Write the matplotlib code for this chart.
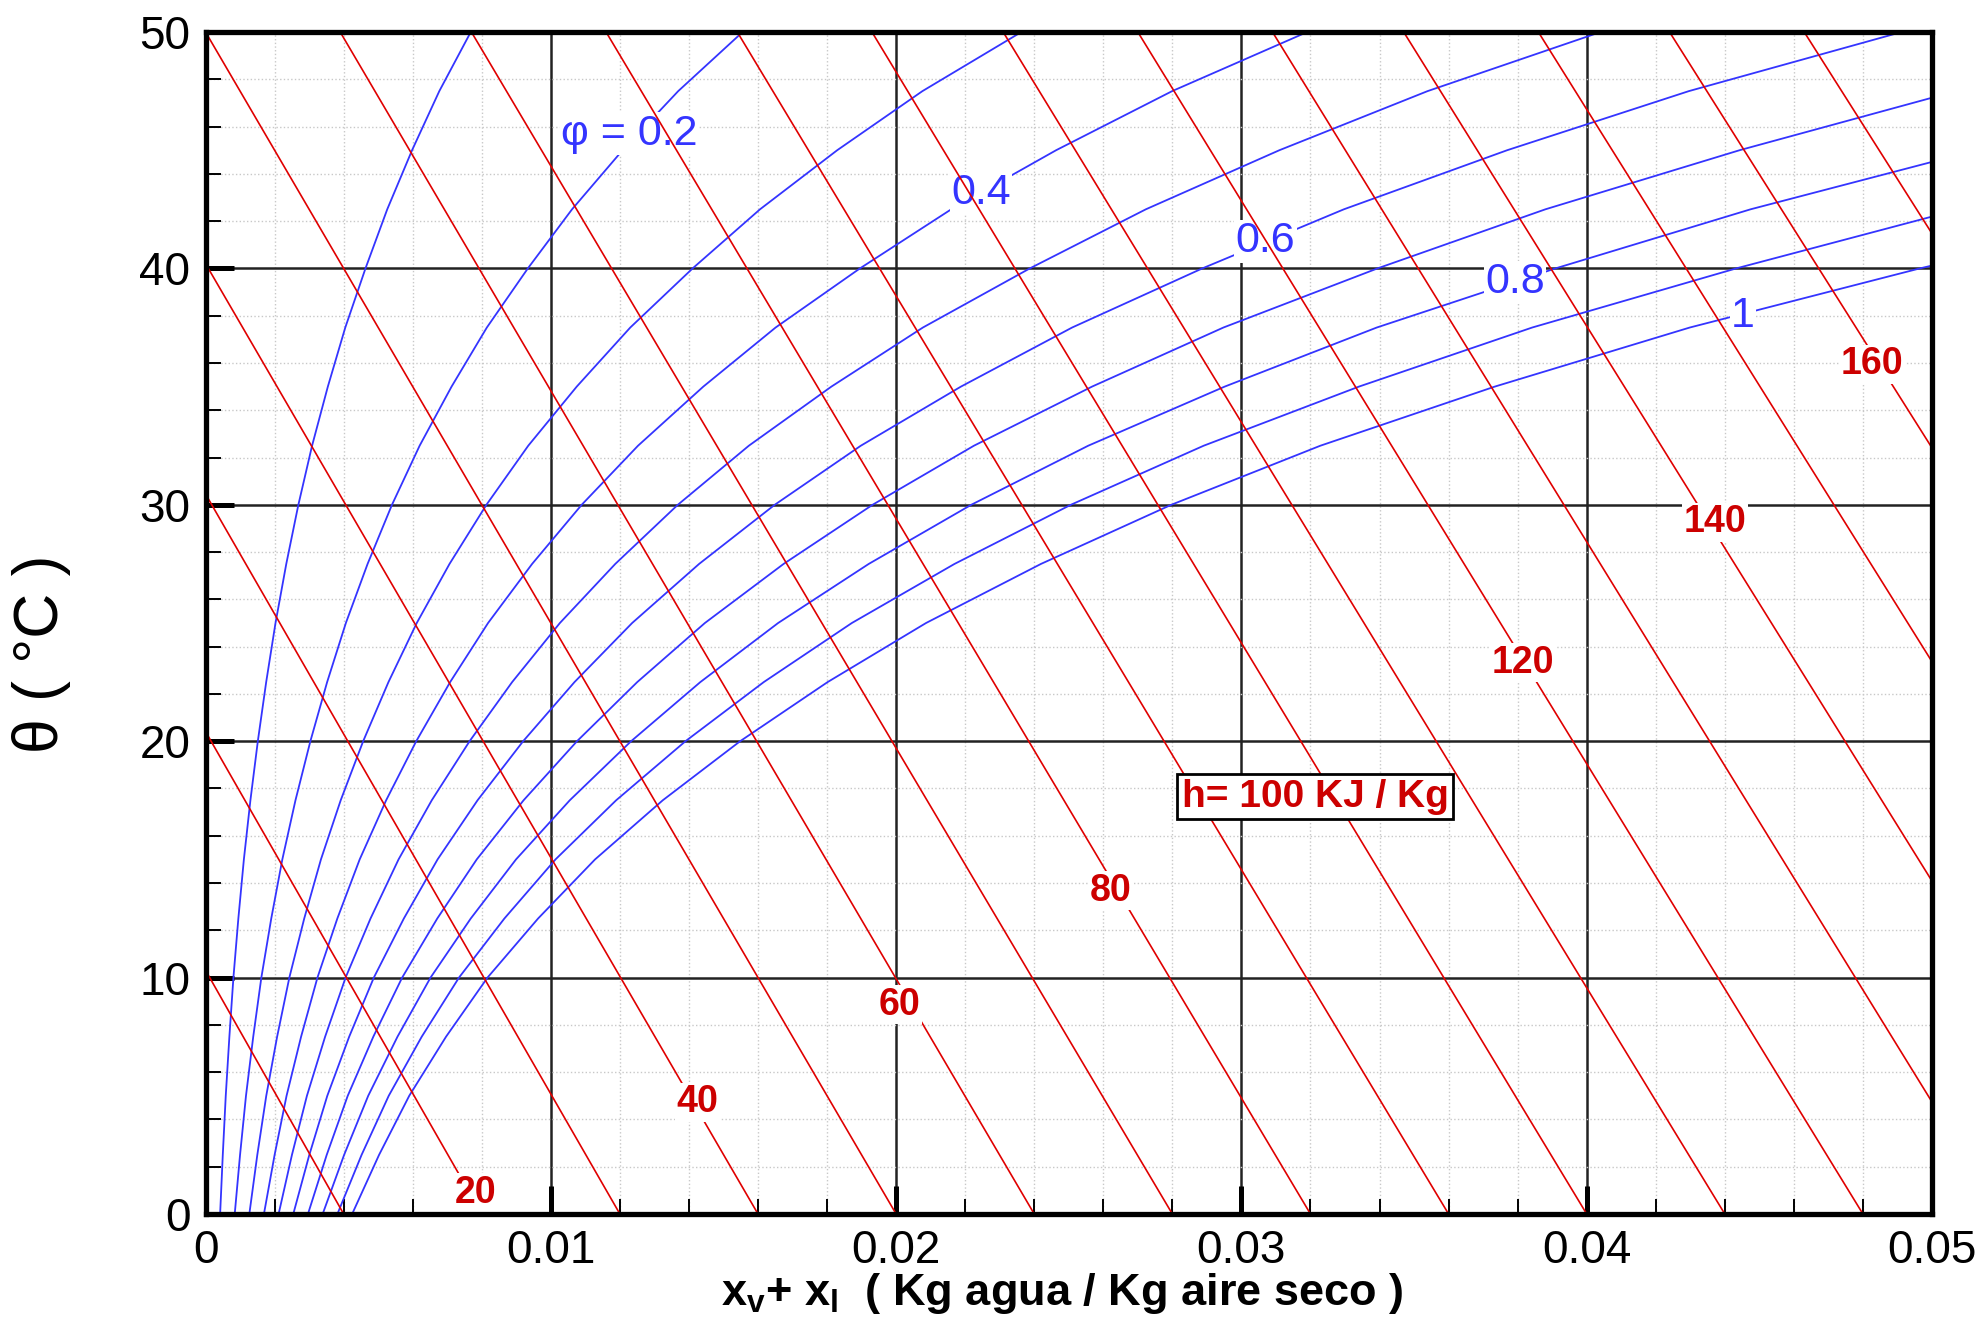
import matplotlib
matplotlib.use('Agg')
import matplotlib.pyplot as plt
from matplotlib.ticker import MultipleLocator

plt.rcParams['font.family'] = ['Liberation Sans', 'DejaVu Sans']
plt.rcParams['mathtext.fontset'] = 'custom'
plt.rcParams['mathtext.rm'] = 'Liberation Sans'
plt.rcParams['mathtext.bf'] = 'Liberation Sans:bold'
plt.rcParams['mathtext.it'] = 'Liberation Sans:italic'

# temperaturas (C) donde se leen las curvas de humedad relativa
theta = [0, 2.5, 5, 7.5, 10, 12.5, 15, 17.5, 20, 22.5, 25,
         27.5, 30, 32.5, 35, 37.5, 40, 42.5, 45, 47.5, 50]

# x (kg agua / kg aire seco) de cada curva phi, en cada temperatura
x_phi01 = [0.000422, 0.000499, 0.000585, 0.000690, 0.000807, 0.000950, 0.001110, 0.001299, 0.001514, 0.001756, 0.002026,
           0.002338, 0.002688, 0.003085, 0.003542, 0.004047, 0.004632, 0.005262, 0.005981, 0.006770, 0.007681]
x_phi02 = [0.000845, 0.000999, 0.001171, 0.001381, 0.001616, 0.001903, 0.002224, 0.002604, 0.003036, 0.003521, 0.004064,
           0.004693, 0.005399, 0.006200, 0.007125, 0.008147, 0.009334, 0.010614, 0.012078, 0.013689, 0.015554]
x_phi03 = [0.001268, 0.001499, 0.001758, 0.002073, 0.002427, 0.002858, 0.003342, 0.003914, 0.004565, 0.005297, 0.006117,
           0.007066, 0.008134, 0.009346, 0.010750, 0.012301, 0.014106, 0.016058, 0.018294, 0.020762, 0.023627]
x_phi04 = [0.001691, 0.002000, 0.002346, 0.002767, 0.003241, 0.003817, 0.004464, 0.005230, 0.006102, 0.007083, 0.008182,
           0.009458, 0.010893, 0.012525, 0.014416, 0.016510, 0.018952, 0.021596, 0.024634, 0.027995, 0.031906]
x_phi05 = [0.002116, 0.002502, 0.002936, 0.003463, 0.004056, 0.004778, 0.005590, 0.006551, 0.007647, 0.008879, 0.010262,
           0.011867, 0.013677, 0.015735, 0.018125, 0.020776, 0.023872, 0.027232, 0.031100, 0.035392, 0.040401]
x_phi06 = [0.002541, 0.003005, 0.003526, 0.004160, 0.004874, 0.005743, 0.006720, 0.007877, 0.009198, 0.010685, 0.012355,
           0.014295, 0.016484, 0.018978, 0.021877, 0.025098, 0.028868, 0.032967, 0.037697, 0.042959, 0.049120]
x_phi07 = [0.002966, 0.003509, 0.004118, 0.004859, 0.005694, 0.006711, 0.007854, 0.009210, 0.010758, 0.012502, 0.014462,
           0.016742, 0.019317, 0.022254, 0.025674, 0.029480, 0.033941, 0.038804, 0.044428, 0.050702, 0.058071]
x_phi08 = [0.003392, 0.004013, 0.004711, 0.005559, 0.006516, 0.007681, 0.008992, 0.010548, 0.012325, 0.014329, 0.016583,
           0.019208, 0.022175, 0.025564, 0.029516, 0.033921, 0.039095, 0.044746, 0.051298, 0.058629, 0.067263]
x_phi09 = [0.003819, 0.004519, 0.005305, 0.006261, 0.007340, 0.008655, 0.010135, 0.011891, 0.013900, 0.016166, 0.018718,
           0.021692, 0.025059, 0.028908, 0.033404, 0.038423, 0.044330, 0.050796, 0.058312, 0.066744, 0.076708]
x_phi10 = [0.004246, 0.005025, 0.005899, 0.006965, 0.008166, 0.009631, 0.011281, 0.013241, 0.015483, 0.018015, 0.020867,
           0.024196, 0.027968, 0.032287, 0.037338, 0.042987, 0.049648, 0.056956, 0.065474, 0.075054, 0.086415]
curvas_phi = [x_phi01, x_phi02, x_phi03, x_phi04, x_phi05,
              x_phi06, x_phi07, x_phi08, x_phi09, x_phi10]

# rectas de entalpia h (kJ/kg): x en theta = 0 y en theta = 50
h_vals = [10, 20, 30, 40, 50, 60, 70, 80, 90, 100, 110, 120, 130, 140, 150, 160, 170]
x_h_0 = [0.0040, 0.0080, 0.0120, 0.0160, 0.0200, 0.0240, 0.0280, 0.0320, 0.0360,
         0.0400, 0.0440, 0.0480, 0.0520, 0.0560, 0.0600, 0.0640, 0.0680]
x_h_50 = [-0.0154, -0.0116, -0.0077, -0.0039, 0.0000, 0.0039, 0.0077, 0.0116, 0.0154,
          0.0193, 0.0231, 0.0270, 0.0309, 0.0347, 0.0386, 0.0424, 0.0463]

# etiquetas
lab_phi_txt = ['φ = 0.2', '0.4', '0.6', '0.8', '1']
lab_phi_x = [0.01227, 0.02246, 0.0307, 0.03792, 0.04452]
lab_phi_y = [45.7, 43.17, 41.14, 39.42, 37.98]

lab_h_txt = ['20', '40', '60', '80', '120', '140', '160']
lab_h_x = [0.00783, 0.01425, 0.02011, 0.0262, 0.03814, 0.04372, 0.04826]
lab_h_y = [0.9, 4.73, 8.86, 13.68, 23.31, 29.26, 35.95]

azul = '#3434ff'
rojo = '#e00000'
rojo_txt = '#cc0000'

fig = plt.figure(figsize=(19.86, 13.23), dpi=100)
ax = fig.add_axes([0.1035, 0.0824, 0.8693, 0.8934])

for xs in curvas_phi:
    ax.plot(xs, theta, color=azul, lw=1.3, zorder=2)

for i in range(len(h_vals)):
    ax.plot([x_h_0[i], x_h_50[i]], [0, 50], color=rojo, lw=1.2, zorder=3)

for t, x, y in zip(lab_phi_txt, lab_phi_x, lab_phi_y):
    ax.text(x, y, t, color=azul, fontsize=31, ha='center', va='center', zorder=2.5,
            bbox=dict(facecolor='white', edgecolor='none', pad=1))

for t, x, y in zip(lab_h_txt, lab_h_x, lab_h_y):
    ax.text(x, y, t, color=rojo_txt, fontsize=27, fontweight='bold', ha='center',
            va='center', zorder=4, bbox=dict(facecolor='white', edgecolor='none', pad=1))

ax.text(0.03214, 17.66, 'h= 100 KJ / Kg', color=rojo_txt, fontsize=28, fontweight='bold',
        ha='center', va='center', zorder=4,
        bbox=dict(facecolor='white', edgecolor='black', linewidth=2, pad=3.5))

ax.set_xlim(0, 0.05)
ax.set_ylim(0, 50)
ax.xaxis.set_major_locator(MultipleLocator(0.01))
ax.xaxis.set_minor_locator(MultipleLocator(0.002))
ax.yaxis.set_major_locator(MultipleLocator(10))
ax.yaxis.set_minor_locator(MultipleLocator(2))
ax.set_xticks([0, 0.01, 0.02, 0.03, 0.04, 0.05])
ax.set_xticklabels(['0', '0.01', '0.02', '0.03', '0.04', '0.05'])

ax.set_axisbelow(True)
ax.grid(which='minor', color='#c8c8c8', linestyle=':', lw=1.0)
ax.grid(which='major', color='#222222', linestyle='-', lw=1.8)

ax.tick_params(which='major', direction='in', length=20, width=3.6, labelsize=33,
               pad=11, top=False, right=False)
ax.tick_params(which='minor', direction='in', length=11, width=1.4, top=False, right=False)
for s in ax.spines.values():
    s.set_linewidth(3.8)
    s.set_zorder(6)

fig.text(0.0211, 0.5057, 'θ ( °C )', fontsize=45, rotation=90, ha='center', va='center')
fig.text(0.535, 0.022, r'$\mathbf{x_v}$+ $\mathbf{x_l}$  ( Kg agua / Kg aire seco )',
         fontsize=32.5, fontweight='bold', ha='center', va='center')

fig.savefig('out.png', dpi=100)
